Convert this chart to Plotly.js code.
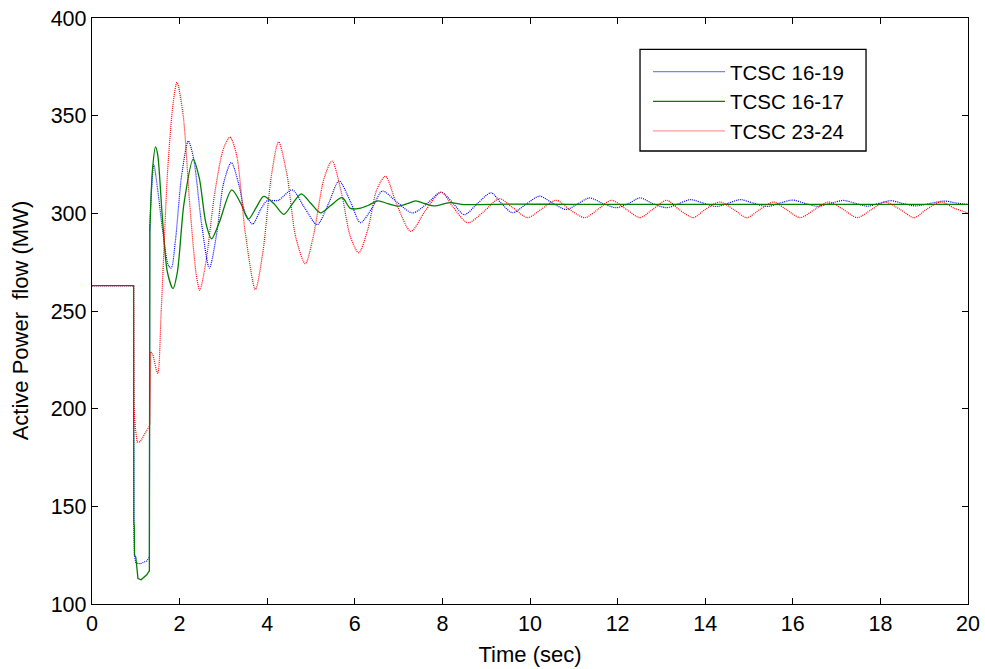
<!DOCTYPE html>
<html>
<head>
<meta charset="utf-8">
<script src="https://cdn.plot.ly/plotly-3.0.1.min.js"></script>
<style>
html,body{margin:0;padding:0;background:#fff;}
#chart{width:985px;height:669px;}
</style>
</head>
<body>
<div id="chart"></div>
<script>
// Series names
var seriesNames = ["TCSC 16-19", "TCSC 16-17", "TCSC 23-24"];

// TCSC 16-19 (blue, dotted): fault segment, then post-fault oscillation
var t1619Fault = [0, 0.95, 0.955, 0.97, 1.0, 1.1, 1.25, 1.31, 1.32];
var p1619Fault = [263, 263, 141, 125, 121, 120.6, 122, 124, 294];
var t1619Post = [1.32, 1.36, 1.41, 1.5, 1.62, 1.75, 1.81, 1.9, 2.05, 2.2, 2.32, 2.5, 2.68, 2.85, 3.0, 3.18, 3.35, 3.5, 3.67, 3.85, 4.0, 4.25, 4.57, 4.85, 5.14, 5.4, 5.64, 5.9, 6.13, 6.4, 6.63, 6.95, 7.32, 7.65, 7.97, 8.25, 8.5, 8.8, 9.11, 9.35, 9.6, 9.9, 10.22, 10.53, 10.83, 11.1, 11.36, 11.67, 11.97, 12.25, 12.51, 12.8, 13.12, 13.4, 13.66, 13.96, 14.26, 14.53, 14.8, 15.1, 15.41, 15.7, 16.0, 16.28, 16.56, 16.86, 17.16, 17.43, 17.7, 17.97, 18.24, 18.52, 18.8, 19.12, 19.45, 19.75, 20];
var p1619Post = [294, 312, 325, 312, 290, 273, 272, 285, 320, 337, 328, 295, 272, 290, 315, 326, 315, 300, 294.5, 302, 306.5, 306.6, 312, 303, 294.2, 305, 316.6, 306, 295.2, 303, 311.4, 306, 300.2, 305, 310.8, 305, 299.3, 305, 310.5, 305, 300.3, 304.5, 308.8, 305, 302, 305, 307.9, 305, 302.9, 305, 307.9, 305, 302.9, 305, 307, 305.2, 303.5, 305.2, 307, 305.2, 303.5, 305.2, 306.8, 305.1, 303.6, 305.1, 306.6, 305.1, 303.7, 305.1, 306.5, 305, 303.8, 305, 306.3, 305.2, 304.5];

// TCSC 16-17 (green, solid)
var t1617Fault = [0, 0.95, 0.955, 0.965, 0.97, 1.0, 1.05, 1.12, 1.25, 1.31, 1.32];
var p1617Fault = [263, 263, 141.5, 140, 125, 124, 113, 112.4, 115, 117, 290.5];
var t1617Post = [1.32, 1.38, 1.45, 1.5, 1.6, 1.72, 1.85, 1.95, 2.1, 2.31, 2.45, 2.6, 2.73, 2.9, 3.19, 3.4, 3.57, 3.75, 3.92, 4.15, 4.38, 4.58, 4.78, 5.0, 5.22, 5.45, 5.71, 5.9, 6.1, 6.3, 6.53, 6.75, 6.99, 7.2, 7.39, 7.6, 7.81, 8.17, 8.5, 9.5, 11, 13, 15, 17, 19, 20];
var p1617Post = [290.5, 322, 334, 330, 300, 270, 261.5, 270, 305, 327.8, 318, 295, 287, 295, 312, 305, 297, 303, 308.7, 305, 299.5, 305, 310, 305, 300.2, 304, 308, 302.5, 302.5, 304, 306.4, 305, 303.7, 305, 306.4, 305, 303.8, 305.5, 304.5, 304.7, 304.6, 304.6, 304.6, 304.6, 304.6, 304.6];

// TCSC 23-24 (red, dotted)
var t2324Fault = [0, 0.95, 0.955, 0.99, 1.03, 1.1, 1.2, 1.31, 1.32, 1.34];
var p2324Fault = [263, 263, 201.5, 190, 183, 183, 187, 191, 192.4, 229];
var t2324Post = [1.34, 1.38, 1.5, 1.58, 1.73, 1.85, 1.94, 2.08, 2.23, 2.38, 2.46, 2.6, 2.8, 3.0, 3.15, 3.3, 3.5, 3.73, 3.9, 4.1, 4.26, 4.45, 4.65, 4.87, 5.05, 5.3, 5.48, 5.7, 5.9, 6.09, 6.3, 6.5, 6.7, 6.95, 7.28, 7.6, 7.97, 8.25, 8.58, 8.95, 9.3, 9.6, 9.95, 10.25, 10.6, 10.9, 11.25, 11.55, 11.86, 12.2, 12.51, 12.8, 13.12, 13.4, 13.73, 14.0, 14.33, 14.65, 14.95, 15.25, 15.56, 15.85, 16.17, 16.5, 16.82, 17.15, 17.47, 17.8, 18.1, 18.45, 18.77, 19.05, 19.38, 19.7, 20];
var p2324Post = [229, 228, 218, 250, 323, 356, 367, 350.5, 305, 268.7, 260.6, 275, 310, 333, 339, 330, 290, 261, 280, 320, 336.6, 320, 288, 274.2, 288, 318, 326.8, 310, 288, 279.8, 292, 312, 319, 305, 290.8, 301, 310.8, 303, 295.2, 301, 307.5, 303, 297.8, 302, 306.7, 302, 297.8, 302, 306.7, 302, 297.8, 302, 306.7, 302, 297.8, 302, 305.8, 302, 297.8, 302, 305.8, 302, 297.8, 302, 305.8, 302, 297.8, 302, 305.8, 302, 297.8, 302, 305.8, 302.5, 300.2];

// Axis ticks
var xTicks = [0, 2, 4, 6, 8, 10, 12, 14, 16, 18, 20];
var yTicks = [100, 150, 200, 250, 300, 350, 400];
var xTitle = "Time (sec)";
var yTitle = "Active Power  flow (MW)";

var font = "Liberation Sans, Arial, sans-serif";

var blueLine = {color: "#0000ff", width: 1.2, dash: "1px,1px"};
var greenLine = {color: "#008000", width: 1.3};
var redLine = {color: "#ff0000", width: 1.2, dash: "1px,1px"};
// legend sample styles (the dotted lines look like light solid lines in the key)
var legendStyles = [
  {color: "#8080ff", width: 1.3},
  {color: "#008000", width: 1.3},
  {color: "#ff9a9a", width: 1.3}
];

function seg(x, y, name, line, smooth) {
  var l = Object.assign({}, line);
  if (smooth) { l.shape = "spline"; l.smoothing = 0.8; } else { l.shape = "linear"; }
  return {x: x, y: y, name: name, type: "scatter", mode: "lines",
          showlegend: false, line: l};
}

var traces = [
  seg(t1619Post, p1619Post, seriesNames[0], blueLine, true),
  seg(t1617Post, p1617Post, seriesNames[1], greenLine, true),
  seg(t2324Post, p2324Post, seriesNames[2], redLine, true),
  seg(t1619Fault, p1619Fault, seriesNames[0], blueLine, false),
  seg(t1617Fault, p1617Fault, seriesNames[1], greenLine, false),
  seg(t2324Fault, p2324Fault, seriesNames[2], redLine, false)
];
// legend key entries
seriesNames.forEach(function (n, i) {
  traces.push({x: [null], y: [null], name: n, type: "scatter", mode: "lines",
               showlegend: true, line: legendStyles[i]});
});

var layout = {
  width: 985, height: 669,
  margin: {l: 92, r: 17, t: 18, b: 65},
  paper_bgcolor: "#ffffff", plot_bgcolor: "#ffffff",
  font: {family: font, size: 21.5, color: "#000"},
  showlegend: true,
  legend: {
    x: 0.6347, y: 0.9423, xanchor: "left", yanchor: "top",
    borderwidth: 0, bgcolor: "rgba(0,0,0,0)",
    font: {family: font, size: 20.5, color: "#000"},
    itemwidth: 72, traceorder: "normal"
  },
  shapes: [{
    type: "rect", xref: "paper", yref: "paper",
    x0: 0.6256, x1: 0.8836, y0: 0.773, y1: 0.9466,
    line: {color: "#000", width: 1.3}, fillcolor: "#ffffff", layer: "below"
  }],
  annotations: [{
    text: yTitle, xref: "paper", yref: "paper", x: -0.0822, y: 0.484,
    xanchor: "center", yanchor: "middle", textangle: -90, showarrow: false,
    font: {family: font, size: 22, color: "#000"}
  }],
  xaxis: {
    range: [0, 20], tickvals: xTicks, ticktext: xTicks.map(String),
    showgrid: false, zeroline: false, showline: true, linecolor: "#000", linewidth: 1.2,
    mirror: "ticks", ticks: "inside", ticklen: 6, tickcolor: "#000", tickwidth: 1,
    tickfont: {family: font, size: 21.5, color: "#000"},
    title: {text: xTitle, font: {family: font, size: 22, color: "#000"}, standoff: 11}
  },
  yaxis: {
    range: [100, 400], tickvals: yTicks, ticktext: yTicks.map(String),
    showgrid: false, zeroline: false, showline: true, linecolor: "#000", linewidth: 1.2,
    mirror: "ticks", ticks: "inside", ticklen: 6, tickcolor: "#000", tickwidth: 1,
    tickfont: {family: font, size: 21.5, color: "#000"}
  }
};

Plotly.newPlot("chart", traces, layout, {staticPlot: true, displayModeBar: false});
</script>
</body>
</html>
